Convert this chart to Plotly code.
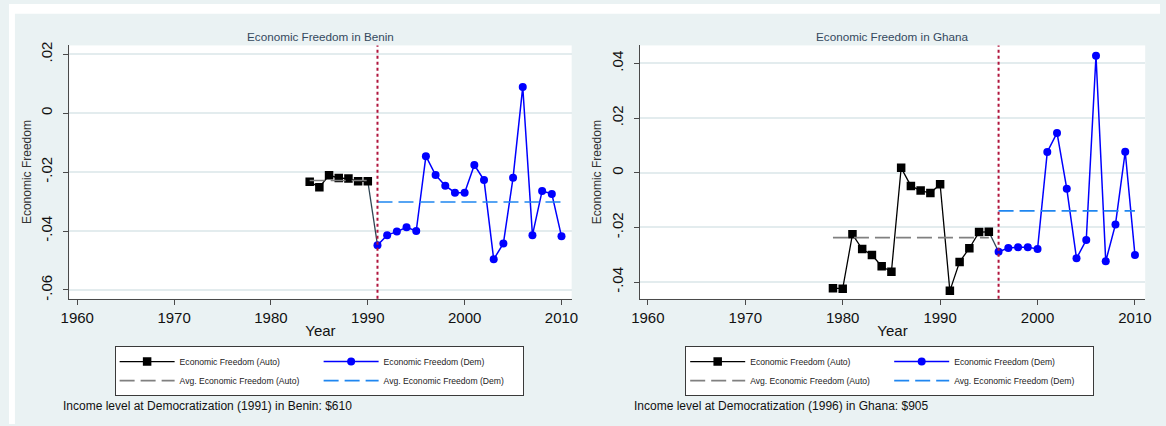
import plotly.graph_objects as go

W, H = 1166, 426

# ---- data -------------------------------------------------------------
benin_auto_years = list(range(1984, 1991))
benin_auto_ef = [-0.0233, -0.0251, -0.0211, -0.0220, -0.0222, -0.0231, -0.0231]
benin_dem_years = list(range(1991, 2011))
benin_dem_ef = [-0.0448, -0.0414, -0.0402, -0.0387, -0.0400, -0.0146, -0.0210,
                -0.0246, -0.0270, -0.0270, -0.0176, -0.0227, -0.0496, -0.0442,
                -0.0219, 0.0089, -0.0414, -0.0264, -0.0274, -0.0418]

ghana_auto_years = list(range(1979, 1996))
ghana_auto_ef = [-0.0422, -0.0424, -0.0225, -0.0279, -0.0301, -0.0342, -0.0362,
                 0.0018, -0.0048, -0.0065, -0.0074, -0.0042, -0.0432, -0.0326,
                 -0.0276, -0.0217, -0.0216]
ghana_dem_years = list(range(1996, 2011))
ghana_dem_ef = [-0.0289, -0.0275, -0.0272, -0.0272, -0.0279, 0.0076, 0.0146,
                -0.0058, -0.0313, -0.0246, 0.0428, -0.0324, -0.0189, 0.0077,
                -0.0301]

benin_yticks = [-0.06, -0.04, -0.02, 0.0, 0.02]
benin_yticklabels = ["-.06", "-.04", "-.02", "0", ".02"]
ghana_yticks = [-0.04, -0.02, 0.0, 0.02, 0.04]
ghana_yticklabels = ["-.04", "-.02", "0", ".02", ".04"]
xticks = [1960, 1970, 1980, 1990, 2000, 2010]

legend_names = ["Economic Freedom (Auto)", "Economic Freedom (Dem)",
                "Avg. Economic Freedom (Auto)", "Avg. Economic Freedom (Dem)"]

# ---- styling ----------------------------------------------------------
FONT = "Liberation Sans, Arial, sans-serif"
PANEL_BG = "#eaf2f3"
GRID = "#e3ecee"
AXIS = "#4a4a4a"
AUTO_COLOR = "#000000"
DEM_COLOR = "#0000ff"
AVG_AUTO_COLOR = "#808080"
AVG_DEM_COLOR = "#1f86f0"
DEMO_LINE = "#b0143c"


def fx(px):
    return px / W


def fy(py):
    return 1 - py / H


def mean(vals):
    return sum(vals) / len(vals)


panels = [
    dict(country="Benin", auto_years=benin_auto_years, auto_ef=benin_auto_ef,
         dem_years=benin_dem_years, dem_ef=benin_dem_ef, demo_year=1991,
         income="$610", yticks=benin_yticks, yticklabels=benin_yticklabels,
         yrange=[-0.0630, 0.0230], left=61, right=570, offset=0),
    dict(country="Ghana", auto_years=ghana_auto_years, auto_ef=ghana_auto_ef,
         dem_years=ghana_dem_years, dem_ef=ghana_dem_ef, demo_year=1996,
         income="$905", yticks=ghana_yticks, yticklabels=ghana_yticklabels,
         yrange=[-0.0461, 0.0466], left=639, right=1151, offset=578),
]

PLOT_TOP, PLOT_BOTTOM = 42, 299
XRANGE = [1959.17, 2011.05]

fig = go.Figure()
shapes = [
    # white strips around the graph region
    dict(type="rect", xref="paper", yref="paper", x0=0, x1=1, y0=fy(10), y1=1,
         fillcolor="white", line_width=0, layer="below"),
    dict(type="rect", xref="paper", yref="paper", x0=0, x1=fx(6), y0=0, y1=1,
         fillcolor="white", line_width=0, layer="below"),
]
annotations = []

for i, p in enumerate(panels):
    n = "" if i == 0 else str(i + 1)
    xa, ya = "x" + n, "y" + n
    leg = "legend" + n

    # connector between the last autocratic and first democratic year
    fig.add_trace(go.Scatter(
        x=[p["auto_years"][-1], p["dem_years"][0]],
        y=[p["auto_ef"][-1], p["dem_ef"][0]],
        mode="lines", line=dict(color="#2e4453", width=1.3),
        showlegend=False, hoverinfo="skip", xaxis=xa, yaxis=ya))

    fig.add_trace(go.Scatter(
        x=p["auto_years"], y=p["auto_ef"], name=legend_names[0],
        mode="lines+markers", line=dict(color=AUTO_COLOR, width=1.3),
        marker=dict(symbol="square", size=8.5, color=AUTO_COLOR),
        legendgroup="auto", legend=leg, xaxis=xa, yaxis=ya))

    fig.add_trace(go.Scatter(
        x=p["dem_years"], y=p["dem_ef"], name=legend_names[1],
        mode="lines+markers", line=dict(color=DEM_COLOR, width=1.5),
        marker=dict(symbol="circle", size=8, color=DEM_COLOR),
        legendgroup="dem", legend=leg, xaxis=xa, yaxis=ya))

    auto_avg = mean(p["auto_ef"])
    fig.add_trace(go.Scatter(
        x=[p["auto_years"][0], p["auto_years"][-1]], y=[auto_avg, auto_avg],
        name=legend_names[2], mode="lines",
        line=dict(color=AVG_AUTO_COLOR, width=1.6, dash="15px,6px"),
        legendgroup="auto", legend=leg, xaxis=xa, yaxis=ya))

    dem_avg = mean(p["dem_ef"])
    fig.add_trace(go.Scatter(
        x=[p["dem_years"][0], p["dem_years"][-1]], y=[dem_avg, dem_avg],
        name=legend_names[3], mode="lines",
        line=dict(color=AVG_DEM_COLOR, width=1.6, dash="15px,6px"),
        legendgroup="dem", legend=leg, xaxis=xa, yaxis=ya))

    dom_x = [fx(p["left"]), fx(p["right"])]
    dom_y = [fy(PLOT_BOTTOM), fy(PLOT_TOP)]
    fig.layout["xaxis" + n] = dict(
        domain=dom_x, range=XRANGE, anchor=ya, tickvals=xticks,
        showgrid=False, zeroline=False, showline=True, linecolor=AXIS,
        linewidth=1, ticks="outside", ticklen=5, tickcolor=AXIS,
        tickfont=dict(size=15, color="#111"),
        title=dict(text="Year", font=dict(size=15, color="#111"), standoff=0))
    fig.layout["yaxis" + n] = dict(
        domain=dom_y, range=p["yrange"], anchor=xa,
        tickvals=p["yticks"], ticktext=p["yticklabels"], tickangle=-90,
        ticklabelstandoff=5,
        showgrid=True, gridcolor=GRID, gridwidth=1.5, zeroline=False,
        showline=True, linecolor=AXIS, linewidth=1, ticks="outside",
        ticklen=5, tickcolor=AXIS, tickfont=dict(size=15, color="#111"),
        title=dict(text="Economic Freedom", font=dict(size=12, color="#333"),
                   standoff=4))

    # year of democratization
    shapes.append(dict(type="line", xref=xa, yref=ya + " domain",
                       x0=p["demo_year"], x1=p["demo_year"], y0=0, y1=1,
                       line=dict(color=DEMO_LINE, width=2, dash="dot")))

    off = p["offset"]
    annotations.append(dict(
        text="Economic Freedom in " + p["country"], xref="paper", yref="paper",
        x=(dom_x[0] + dom_x[1]) / 2, y=fy(33), xanchor="center",
        yanchor="middle", showarrow=False,
        font=dict(size=11.7, color="#34495e")))
    annotations.append(dict(
        text="Income level at Democratization (%d) in %s: %s"
             % (p["demo_year"], p["country"], p["income"]),
        xref="paper", yref="paper", x=fx(53 + off), y=fy(408),
        xanchor="left", yanchor="middle", showarrow=False,
        font=dict(size=12, color="#111")))

    fig.layout[leg] = dict(
        x=fx(107 + off), y=fy(347), xanchor="left", yanchor="top",
        orientation="h", traceorder="grouped", bgcolor="white",
        bordercolor="#3a3a3a", borderwidth=1, itemwidth=55,
        entrywidth=134, font=dict(size=8.6, color="#222"))

fig.update_layout(
    width=W, height=H, margin=dict(l=0, r=0, t=0, b=0),
    paper_bgcolor=PANEL_BG, plot_bgcolor="white",
    font=dict(family=FONT), shapes=shapes, annotations=annotations,
    hovermode=False)

fig.write_html("out.html")
